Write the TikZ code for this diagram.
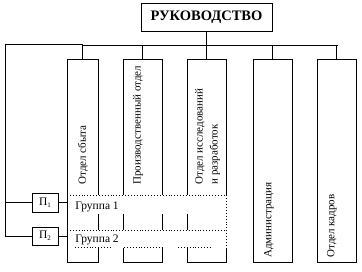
\documentclass[tikz,border=0pt]{standalone}
\usepackage{fontspec}
\setmainfont{Liberation Serif}
\begin{document}
\begin{tikzpicture}[x=1pt,y=-1pt, line width=0.9pt,
  box/.style={draw, inner sep=0pt, outer sep=0pt, anchor=north west},
  vtext/.style={rotate=90, anchor=west, inner sep=0pt, font=\fontsize{11}{15}\selectfont, align=left},
  glabel/.style={anchor=base west, inner sep=0pt, font=\fontsize{11.5}{13}\selectfont},
  dotl/.style={line width=0.9pt, dash pattern=on 0.9pt off 2pt}]
\useasboundingbox (0,0) rectangle (362,272);

% title
\node[box, minimum width=131pt, minimum height=28pt, font=\bfseries\fontsize{14.5}{16}\selectfont] (ruk) at (141,3) {РУКОВОДСТВО};

% columns
\node[box, minimum width=31pt, minimum height=203pt] (c1) at (67,59) {};
\node[box, minimum width=39pt, minimum height=203pt] (c2) at (123,59) {};
\node[box, minimum width=39pt, minimum height=203pt] (c3) at (187,59) {};
\node[box, minimum width=39pt, minimum height=203pt] (c4) at (253,59) {};
\node[box, minimum width=39pt, minimum height=203pt] (c5) at (317,59) {};

% bus
\coordinate (busL) at (83,45.5);
\coordinate (busR) at (338,45.5);
\coordinate (lt) at (5,44);
\draw (ruk.south) -- (ruk.south |- busL);
\draw (busL) -- (busR);
\foreach \c in {c2,c3,c4,c5} \draw (\c.north) -- (\c.north |- busL);
\draw (c1.north) -- (c1.north |- lt) -- (lt);

% П boxes
\node[box, minimum width=26pt, minimum height=19pt, font=\fontsize{11.5}{13}\selectfont] (p1) at (32,193) {П\raisebox{-2pt}{\fontsize{7}{8}\selectfont 1}};
\node[box, minimum width=26pt, minimum height=18pt, font=\fontsize{11.5}{13}\selectfont] (p2) at (32,227) {П\raisebox{-2pt}{\fontsize{7}{8}\selectfont 2}};
\draw (lt) -- (p2.west -| lt) -- (p2.west);
\draw (p1.west) -- (p1.west -| lt);
\draw (p1.east) -- (p1.east -| c1.west);
\draw (p2.east) -- (p2.east -| c1.west);

% group bands
\fill[white] (67.5,195) rectangle (227,214);
\fill[white] (67.5,230) rectangle (227,248);
\fill[white] (225,195) rectangle (227.5,248);
\draw[dotl] (67,195) -- (226,195) -- (226,248);
\draw[dotl] (67,230) -- (226,230);
\draw (c1.north west) -- (c1.south west);
\draw[dotl] (75,247) -- (110,247);
\draw[dotl] (124,247) -- (162,247);
\draw[dotl] (178,247) -- (212,247);
\node[glabel] (g1) at (75,210) {Группа 1};
\node[glabel] (g2) at (75,243) {Группа 2};

% column texts
\node[vtext] (t1) at (83,185) {Отдел сбыта};
\node[vtext] (t2) at (138,185) {Производственный отдел};
\node[vtext] (t3) at (207.5,185) {Отдел исследований\\и разработок};
\node[vtext] (t4) at (269,258) {Администрация};
\node[vtext] (t5) at (332,258) {Отдел кадров};
\end{tikzpicture}
\end{document}
